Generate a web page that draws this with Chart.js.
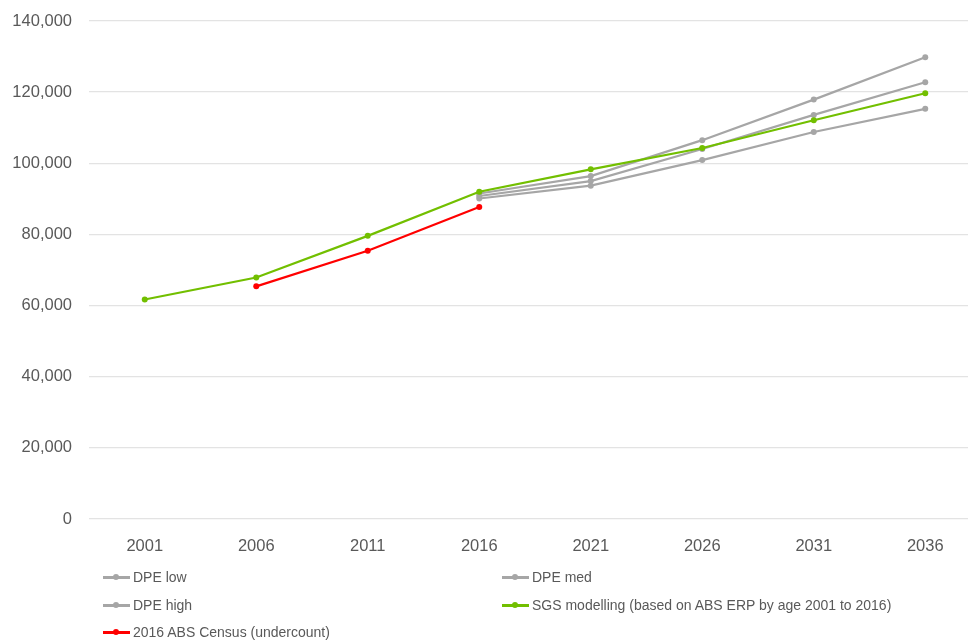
<!DOCTYPE html>
<html>
<head>
<meta charset="utf-8">
<script src="https://cdn.jsdelivr.net/npm/chart.js@4"></script>
<style>
  html, body { margin:0; padding:0; background:#fff; width:968px; height:641px; overflow:hidden; }
  #wrap { position:absolute; left:0; top:0; width:984px; height:560px; }
  #legend { position:absolute; left:0; top:0; width:968px; height:641px; pointer-events:none;
            font-family:"Liberation Sans", Arial, sans-serif; font-size:14px; color:#595959; }
  .item { position:absolute; height:20px; display:flex; align-items:center; white-space:nowrap; }
  .sample { position:relative; width:27px; height:10px; margin-right:3px; }
  .sample .ln { position:absolute; left:0; right:0; top:4px; height:2.5px; }
  .sample .dt { position:absolute; left:10px; top:2px; width:6px; height:6px; border-radius:50%; }
</style>
</head>
<body>
<div id="wrap"><canvas id="c" width="984" height="560"></canvas></div>
<div id="legend"></div>
<script>
const categories = ["2001","2006","2011","2016","2021","2026","2031","2036"];
const dpeLow  = [null, null, null, 90100, 93700, 100900, 108800, 115300];
const dpeMed  = [null, null, null, 90800, 95000, 104000, 113600, 122800];
const dpeHigh = [null, null, null, 91500, 96400, 106500, 117900, 129800];
const sgs     = [61700, 67900, 79600, 92000, 98300, 104300, 112100, 119700];
const census  = [null, 65400, 75400, 87700, null, null, null, null];
const yTicks  = [0, 20000, 40000, 60000, 80000, 100000, 120000, 140000];

const GRAY = "#a6a6a6", GREEN = "#72bf00", RED = "#ff0000";

function ds(label, data, color, order) {
  return { label, data, borderColor: color, backgroundColor: color,
    borderWidth: 2.2, pointRadius: 3, pointHoverRadius: 3, pointBorderWidth: 0,
    pointBackgroundColor: color, tension: 0, spanGaps: false, order };
}

const datasets = [
  ds("DPE low", dpeLow, GRAY, 5),
  ds("DPE med", dpeMed, GRAY, 4),
  ds("DPE high", dpeHigh, GRAY, 3),
  ds("SGS modelling (based on ABS ERP by age 2001 to 2016)", sgs, GREEN, 2),
  ds("2016 ABS Census (undercount)", census, RED, 1)
];

const chart = new Chart(document.getElementById("c"), {
  type: "line",
  data: { labels: categories, datasets },
  options: {
    responsive: false,
    animation: false,
    layout: { padding: { left: 0, right: 2, top: 21, bottom: 0 } },
    plugins: { legend: { display: false }, tooltip: { enabled: false } },
    scales: {
      x: {
        offset: true,
        grid: { display: false, drawTicks: false },
        border: { display: false },
        ticks: { color: "#595959", padding: 18,
          font: { family: "'Liberation Sans', Arial, sans-serif", size: 16.5 } },
        afterFit: (s) => { s.height = 41; s.paddingLeft = 0; s.paddingRight = 0; }
      },
      y: {
        min: 0, max: 140000,
        afterBuildTicks: (s) => { s.ticks = yTicks.map(v => ({ value: v })); },
        grid: { color: "#e3e3e3", lineWidth: 1.3, drawTicks: false },
        border: { display: false },
        ticks: { color: "#595959", padding: 17,
          font: { family: "'Liberation Sans', Arial, sans-serif", size: 16.5 },
          callback: (v) => v.toLocaleString("en-US") },
        afterFit: (s) => { s.width = 89; s.paddingTop = 0; s.paddingBottom = 0; }
      }
    }
  }
});

// HTML legend built from the chart's datasets, two columns
const positions = [
  { x: 103, y: 577 }, { x: 502, y: 577 },
  { x: 103, y: 605 }, { x: 502, y: 605 },
  { x: 103, y: 632 }
];
const leg = document.getElementById("legend");
chart.data.datasets.forEach((d, i) => {
  const p = positions[i];
  const it = document.createElement("div");
  it.className = "item";
  it.style.left = p.x + "px";
  it.style.top = (p.y - 10) + "px";
  it.innerHTML = '<span class="sample"><span class="ln" style="background:' + d.borderColor +
    '"></span><span class="dt" style="background:' + d.borderColor + '"></span></span>' +
    '<span></span>';
  it.lastChild.textContent = d.label;
  leg.appendChild(it);
});
</script>
</body>
</html>
